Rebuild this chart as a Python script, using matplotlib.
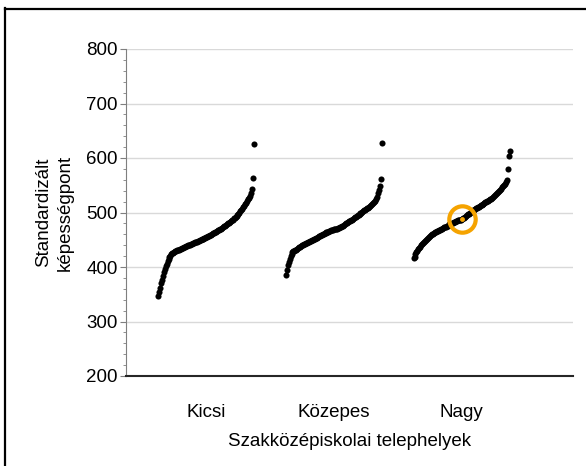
import matplotlib
matplotlib.use("Agg")
import matplotlib.pyplot as plt
from matplotlib.lines import Line2D
import numpy as np

plt.rcParams['font.family'] = ['Liberation Sans', 'DejaVu Sans']

categories = ["Kicsi", "Közepes", "Nagy"]

# sorted standardised scores
kicsi = [347, 355, 362, 370, 376, 383, 390, 396, 401, 406,
         411, 415, 418, 421, 423, 425, 426, 427.5, 428.5, 429.5,
         430.5, 431, 432, 432.5, 433.5, 434.5, 435.5, 436, 437, 438,
         439, 439.5, 440.5, 441, 442, 443, 443.5, 444, 445, 446,
         446.5, 447.5, 448, 449, 449.5, 450.5, 451, 452, 453, 454,
         455, 455.5, 456.5, 457.5, 458.5, 459.5, 460.5, 461.5, 462.5, 463.5,
         465, 466, 467, 468, 469, 470.5, 472, 473, 474.5, 476,
         477, 478.5, 480, 481, 482.5, 484, 485.5, 487, 489, 490.5,
         492, 494, 496, 498, 500, 502, 504.5, 507, 509.5, 512,
         515, 518, 521, 524, 527, 531, 536, 543, 564, 625]

kozepes = [386, 395, 403, 409, 415, 420, 424, 427, 428.5, 430,
           431, 432, 433.5, 435, 436.5, 437.5, 438.5, 440, 441, 442,
           443, 444, 444.5, 445.5, 446.5, 447, 448, 449, 450, 451,
           452, 453, 454, 455, 456, 457, 458, 459, 460, 461,
           461.5, 462.5, 463.5, 464, 465, 466, 466.5, 467, 467.5, 468,
           469, 469.5, 470, 470.5, 471, 472, 472.5, 473.5, 475, 476,
           477.5, 478.5, 480, 481, 482, 483.5, 484.5, 486, 487, 488.5,
           489.5, 491, 492, 493.5, 494.5, 496, 497, 498.5, 500, 501,
           502.5, 504, 505, 506.5, 508, 509, 510.5, 512, 514, 515.5,
           517.5, 519.5, 522, 525, 529, 535, 541, 548, 561, 628]

nagy = [416, 419, 423, 427, 430, 432.5, 435, 437.5, 440, 442,
        444, 446, 448, 449.5, 451, 453, 455, 457, 458.5, 460,
        461, 462, 463.5, 464.5, 465.5, 466.5, 467.5, 468.5, 469.5, 470.5,
        471.5, 472.5, 473.5, 474, 475, 476, 477, 478, 478.5, 479.5,
        480.5, 481, 482, 483, 484, 485, 485.5, 486, 486.5, 487,
        488, 489, 490.5, 492, 493.5, 495, 496.5, 498, 499.5, 501,
        502.5, 504, 505.5, 507, 508, 509, 510, 511, 512.5, 513.5,
        514.5, 515.5, 516.5, 517.5, 518.5, 519.5, 520.5, 521.5, 523, 524,
        525.5, 527, 528.5, 530, 532, 534, 536, 538, 540, 542,
        544, 546, 548, 550.5, 553, 556, 560, 580, 604, 612]

groups = [kicsi, kozepes, nagy]
highlight_group = 2
highlight_index = 50

fig = plt.figure(figsize=(5.86, 4.66), dpi=100)
ax = fig.add_axes([126/586, 1 - 376/466, 447/586, 327/466])

step = 0.0076
for g, vals in enumerate(groups):
    vals = np.sort(np.array(vals, dtype=float))
    xs = (g + 1) + (np.arange(len(vals)) - (len(vals) - 1) / 2) * step
    ax.plot(xs, vals, 'o', color='black', markersize=4.4, markeredgewidth=0, zorder=3)
    if g == highlight_group:
        hx, hy = xs[highlight_index], vals[highlight_index]
        ax.plot(hx, hy, 'o', color='#f5a300', markersize=3.5, markeredgewidth=0, zorder=4)
        ax.plot(hx, hy, 'o', markerfacecolor='none', markeredgecolor='#f5a300',
                markersize=19, markeredgewidth=3.0, zorder=5)

ax.set_xlim(0.375, 3.871)
ax.set_ylim(200, 800)
ax.set_yticks(np.arange(200, 801, 100))
ax.set_yticks(np.arange(200, 801, 20), minor=True)
ax.set_xticks([1, 2, 3])
ax.set_xticklabels(categories)
ax.grid(axis='y', color='#d9d9d9', linewidth=1.0, zorder=0)
ax.set_axisbelow(True)

for s in ['top', 'right']:
    ax.spines[s].set_visible(False)
ax.spines['left'].set_color('#7f7f7f')
ax.spines['bottom'].set_color('#262626')
ax.spines['bottom'].set_linewidth(1.5)
ax.tick_params(axis='y', which='major', length=4, color='#7f7f7f', labelsize=13.5, pad=2)
ax.tick_params(axis='y', which='minor', length=2.5, color='#7f7f7f')
ax.tick_params(axis='x', length=0, labelsize=13.5, pad=20)

ax.set_xlabel("Szakközépiskolai telephelyek", fontsize=13.5, labelpad=9)
ax.set_ylabel("Standardizált\nképességpont", fontsize=13.5, va='center', ha='center',
              linespacing=1.3)
ax.yaxis.set_label_coords(-0.16, 0.5)

# frame lines of the original figure box
fig.add_artist(Line2D([5/586, 5/586], [0, 1 - 8/466], color='black', linewidth=1.6))
fig.add_artist(Line2D([5/586, 1], [1 - 8.5/466, 1 - 8.5/466], color='black', linewidth=1.6))

fig.savefig("out.png", dpi=100)
